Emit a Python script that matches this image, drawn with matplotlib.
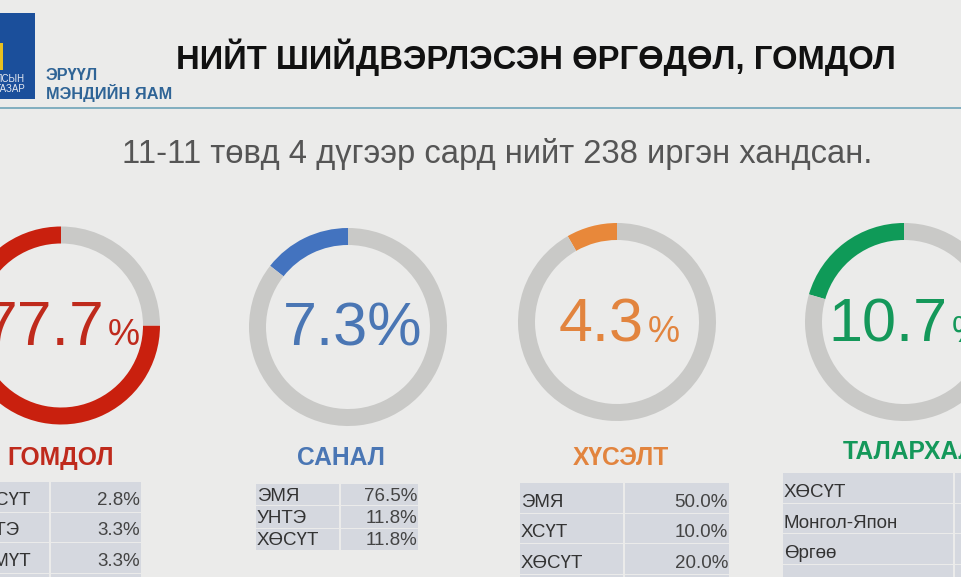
import matplotlib
matplotlib.use("Agg")
import matplotlib.pyplot as plt
from matplotlib.patches import Rectangle

plt.rcParams['font.family'] = ['Liberation Sans', 'DejaVu Sans']

BG = '#ebebea'
RING = '#c9c9c7'
CELL = '#d5d8df'

# share of the ring that is coloured
arc_share = [75.0, 14.4, 8.3, 20.5]
big_numbers = ['77.7', '7.3', '4.3', '10.7']
names = ['ГОМДОЛ', 'САНАЛ', 'ХҮСЭЛТ', 'ТАЛАРХАЛ']
colors = ['#c9200e', '#4373bf', '#e8883a', '#0f9a58']
text_colors = ['#bf2a1c', '#4a76b4', '#e2843e', '#14985a']

gomdol_rows = ['ХӨСҮТ', 'УНТЭ', 'ХЭМҮТ', '']
gomdol_vals = ['2.8%', '3.3%', '3.3%', '']
sanal_rows = ['ЭМЯ', 'УНТЭ', 'ХӨСҮТ']
sanal_vals = ['76.5%', '11.8%', '11.8%']
huselt_rows = ['ЭМЯ', 'ХСҮТ', 'ХӨСҮТ', '']
huselt_vals = ['50.0%', '10.0%', '20.0%', '']
talarhal_rows = ['ХӨСҮТ', 'Монгол-Япон', 'Өргөө', '']
talarhal_vals = ['', '', '', '']

W, H = 962, 577


def Y(py):
    return H - py


fig = plt.figure(figsize=(W / 100, H / 100), dpi=100, facecolor=BG)
ax = fig.add_axes([0, 0, 1, 1])


def donut(cx, cy, share, color):
    ax.pie([share, 100 - share], colors=[color, RING], startangle=90, counterclock=True,
           center=(cx, Y(cy)), radius=99, wedgeprops={'width': 17, 'linewidth': 0})


def table(rows, vals, x0, x1, x2, y0, rh, fs, dy):
    for i in range(len(rows)):
        top = y0 + i * rh
        ax.add_patch(Rectangle((x0, Y(top + rh - 1)), x1 - x0 - 1, rh - 1, fc=CELL, ec='none', zorder=2))
        ax.add_patch(Rectangle((x1 + 1, Y(top + rh - 1)), x2 - x1 - 1, rh - 1, fc=CELL, ec='none', zorder=2))
        ax.text(x0 + 1, Y(top + rh / 2 + dy), rows[i], fontsize=fs, color='#333333', va='center', ha='left', zorder=3)
        ax.text(x2 - 1, Y(top + rh / 2 + dy), vals[i], fontsize=fs, color='#444444', va='center', ha='right', zorder=3)


centers = [(61, 325.5), (348, 327), (617, 322), (904, 322)]
for c, s, col in zip(centers, arc_share, colors):
    donut(c[0], c[1], s, col)

ax.set_xlim(0, W)
ax.set_ylim(0, H)
ax.set_aspect('auto')
ax.axis('off')

# header
ax.add_patch(Rectangle((-2, Y(99)), 37, 86, fc='#1b4f9b', ec='none'))
ax.add_patch(Rectangle((0, Y(70)), 3, 27, fc='#e8c020', ec='none'))
ax.text(25, Y(79), 'ЛСЫН', color='#e4e8f0', fontsize=7, ha='right', va='center')
ax.text(25, Y(89), 'ГАЗАР', color='#e4e8f0', fontsize=7, ha='right', va='center')
ax.text(46, Y(75), 'ЭРҮҮЛ', color='#2f6496', fontsize=11.8, fontweight='bold', va='center')
ax.text(46, Y(93.5), 'МЭНДИЙН ЯАМ', color='#2f6496', fontsize=11.8, fontweight='bold', va='center')
ax.plot([0, W], [Y(108), Y(108)], color='#6fa3b8', lw=1.2)
ax.text(536, Y(57), 'НИЙТ ШИЙДВЭРЛЭСЭН ӨРГӨДӨЛ, ГОМДОЛ', color='#111111', fontsize=23.6,
        fontweight='bold', ha='center', va='center')
ax.text(497, Y(154), '11-11 төвд 4 дүгээр сард нийт 238 иргэн хандсан.', color='#555555',
        fontsize=23.6, ha='center', va='center')

# numbers in the rings
ax.text(105, Y(345), big_numbers[0], color=text_colors[0], fontsize=45, ha='right', va='baseline')
ax.text(108, Y(345), '%', color=text_colors[0], fontsize=26, ha='left', va='baseline')
ax.text(283, Y(346), big_numbers[1] + '%', color=text_colors[1], fontsize=44, ha='left', va='baseline')
ax.text(644, Y(342), big_numbers[2], color=text_colors[2], fontsize=44, ha='right', va='baseline')
ax.text(648, Y(342), '%', color=text_colors[2], fontsize=26, ha='left', va='baseline')
ax.text(948, Y(342), big_numbers[3], color=text_colors[3], fontsize=44, ha='right', va='baseline')
ax.text(952, Y(342), '%', color=text_colors[3], fontsize=26, ha='left', va='baseline')

# category names
name_x = [61, 341, 621, 910]
name_y = [458, 458, 458, 452]
for i in range(4):
    ax.text(name_x[i], Y(name_y[i]), names[i], color=text_colors[i], fontsize=17.7,
            fontweight='bold', ha='center', va='center')

table(gomdol_rows, gomdol_vals, -32, 50, 141, 482, 30.5, 13.5, 3)
table(sanal_rows, sanal_vals, 256, 340, 418, 484, 22.3, 13.5, 1)
table(huselt_rows, huselt_vals, 520, 624, 729, 483, 30.5, 13.5, 4)
table(talarhal_rows, talarhal_vals, 783, 954, 1040, 473, 30.7, 13.5, 4)

fig.savefig('out.png', dpi=100, facecolor=BG)
